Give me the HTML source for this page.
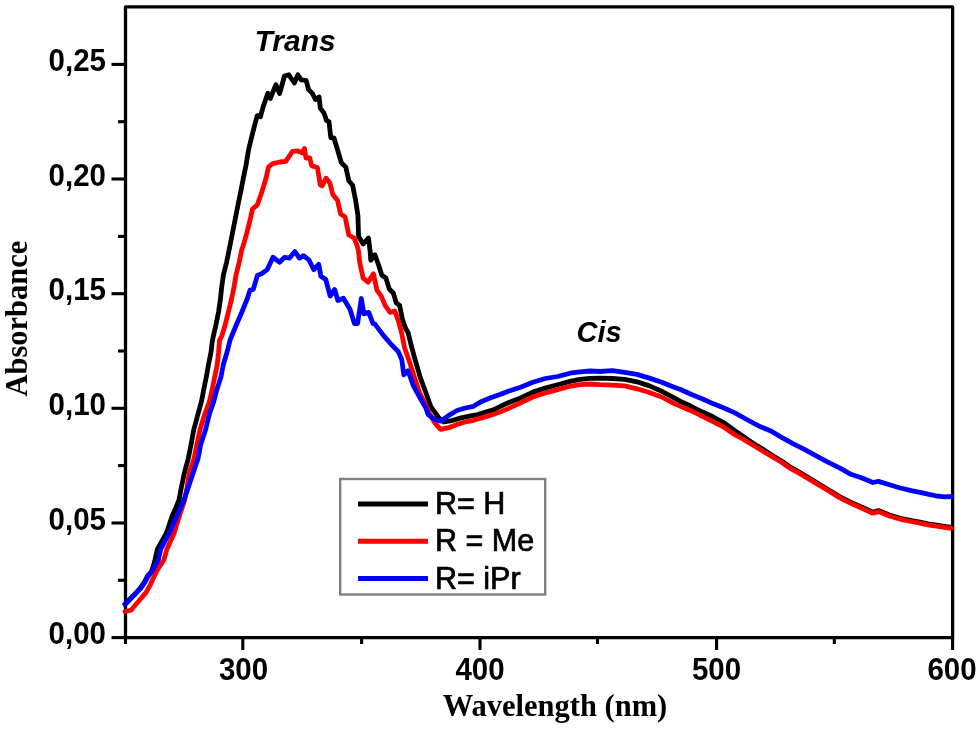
<!DOCTYPE html>
<html><head><meta charset="utf-8"><style>
html,body{margin:0;padding:0;background:#fff;}
svg{display:block;filter:blur(0.6px);}
</style></head><body>
<svg width="980" height="729" viewBox="0 0 980 729">
<rect x="0" y="0" width="980" height="729" fill="#fff"/>
<g stroke="#000" stroke-width="3.1" stroke-linecap="butt"><line x1="125.5" y1="637.6" x2="125.5" y2="644.0"/><line x1="242.8" y1="637.6" x2="242.8" y2="650.0"/><line x1="361.6" y1="637.6" x2="361.6" y2="644.0"/><line x1="480.0" y1="637.6" x2="480.0" y2="650.0"/><line x1="597.5" y1="637.6" x2="597.5" y2="644.0"/><line x1="716.6" y1="637.6" x2="716.6" y2="650.0"/><line x1="834.3" y1="637.6" x2="834.3" y2="644.0"/><line x1="952.6" y1="637.6" x2="952.6" y2="650.0"/><line x1="125.5" y1="637.6" x2="111.5" y2="637.6"/><line x1="125.5" y1="580.3" x2="118.0" y2="580.3"/><line x1="125.5" y1="523.0" x2="111.5" y2="523.0"/><line x1="125.5" y1="465.6" x2="118.0" y2="465.6"/><line x1="125.5" y1="408.3" x2="111.5" y2="408.3"/><line x1="125.5" y1="351.0" x2="118.0" y2="351.0"/><line x1="125.5" y1="293.7" x2="111.5" y2="293.7"/><line x1="125.5" y1="236.4" x2="118.0" y2="236.4"/><line x1="125.5" y1="179.0" x2="111.5" y2="179.0"/><line x1="125.5" y1="121.7" x2="118.0" y2="121.7"/><line x1="125.5" y1="64.4" x2="111.5" y2="64.4"/></g>
<rect x="125.5" y="6.8" width="827.1" height="630.8" fill="none" stroke="#000" stroke-width="3.3" stroke-linejoin="round"/>
<g fill="none" stroke-width="4.8" stroke-linejoin="round" stroke-linecap="round">
<polyline stroke="#000" points="125.0,604.5 130.2,599.0 135.2,594.0 140.1,588.3 144.2,582.5 147.5,576.0 151.6,571.5 154.5,562.0 157.3,549.4 162.0,541.0 166.5,532.9 172.0,516.5 175.8,508.0 179.0,500.0 181.3,487.6 184.3,473.2 188.2,458.8 191.1,444.4 193.7,430.0 198.0,414.0 201.4,401.7 203.8,389.4 206.3,377.0 208.5,364.7 211.0,352.3 212.5,340.0 216.1,324.0 218.6,311.7 220.4,299.4 221.7,287.0 223.5,274.7 226.6,262.3 229.1,250.0 232.6,232.4 235.3,218.7 238.0,204.9 240.8,191.2 243.5,177.5 246.3,163.7 248.5,150.0 251.8,136.5 254.9,124.2 257.3,115.6 260.4,116.8 263.5,105.7 267.8,93.3 270.3,98.5 275.9,84.7 279.6,93.5 284.5,76.0 288.8,74.8 294.4,83.0 297.8,74.8 301.2,79.8 306.1,80.4 308.6,89.6 312.3,93.3 315.4,99.5 319.1,97.0 320.3,108.1 324.0,113.1 326.5,120.5 329.0,121.7 330.8,137.8 333.9,137.8 337.6,150.0 341.3,162.6 345.8,167.1 348.8,180.7 352.6,185.2 355.6,200.3 357.9,215.4 358.6,236.5 363.2,244.0 368.4,238.0 370.0,250.0 370.8,260.2 374.9,254.7 378.3,264.3 381.8,275.3 385.9,278.1 389.3,289.0 393.4,293.2 396.2,302.8 399.6,305.5 402.4,319.2 405.8,328.9 408.0,332.4 411.4,346.1 415.5,361.2 420.3,377.7 425.8,392.5 431.0,407.0 438.9,417.9 443.9,422.0 452.9,420.3 461.2,417.9 469.4,416.2 477.6,414.6 485.8,412.1 494.1,409.6 500.0,406.5 508.2,402.8 520.6,397.9 532.9,392.1 545.3,388.0 557.6,384.7 570.0,381.4 580.0,379.3 590.0,378.3 600.0,378.1 612.3,378.5 624.7,379.3 637.0,381.8 649.4,385.9 661.7,391.3 674.1,397.9 680.0,401.2 691.0,406.3 702.0,411.8 712.9,416.8 723.9,422.8 734.9,430.8 740.0,434.1 748.2,439.9 756.5,445.4 764.7,450.4 772.9,455.8 781.2,460.7 789.4,466.5 800.0,472.6 814.9,481.6 825.9,488.2 840.0,496.9 851.0,502.4 862.0,507.3 872.9,512.2 878.4,510.6 889.4,515.0 900.4,518.3 911.3,520.5 920.0,522.1 927.8,523.9 936.7,525.2 945.7,526.6 951.5,527.4"/>
<polyline stroke="#f00" points="125.0,611.5 131.0,610.2 135.2,605.2 140.1,599.5 145.8,592.9 150.0,585.5 153.3,578.1 157.4,569.9 163.9,560.0 166.8,549.4 174.2,532.9 179.2,516.5 184.7,500.0 187.0,487.6 189.2,473.2 194.0,458.8 196.9,444.4 199.9,430.0 204.8,414.0 209.4,401.7 212.2,389.4 214.7,377.0 217.2,364.7 218.6,352.3 219.6,340.0 221.7,336.4 225.4,324.0 228.5,311.7 231.5,299.4 234.0,287.0 236.1,274.7 239.2,262.3 241.7,250.0 243.1,246.1 247.0,232.4 250.4,218.7 252.5,209.0 257.3,204.9 262.1,191.2 266.2,177.5 268.5,167.0 272.7,163.6 280.0,162.0 285.8,161.4 292.5,151.3 297.3,150.8 302.1,152.8 304.5,148.5 305.9,158.0 309.8,158.0 311.7,165.7 317.4,167.6 320.3,184.9 322.2,185.9 326.1,178.2 329.9,183.0 332.8,194.5 337.5,200.3 340.6,213.9 345.1,216.9 348.8,235.0 354.1,238.0 357.1,245.5 358.4,250.6 359.8,263.0 363.2,278.1 368.0,282.2 373.5,273.9 377.0,290.4 381.1,295.9 385.2,305.5 390.0,312.4 394.8,311.0 398.3,320.6 401.8,333.7 404.5,347.5 409.3,361.2 414.1,376.3 419.6,392.8 425.0,403.5 429.9,414.6 434.8,422.8 440.6,429.4 448.8,427.7 457.0,424.4 465.3,422.0 473.5,420.3 481.7,417.9 490.0,415.4 500.0,412.0 508.2,408.6 520.6,402.8 532.9,397.0 545.3,392.9 557.6,389.6 570.0,386.3 580.0,384.7 590.0,384.0 600.0,384.7 612.3,385.1 624.7,385.9 637.0,388.8 649.4,392.5 661.7,397.0 674.1,403.6 680.0,406.1 691.0,410.7 702.0,416.2 712.9,421.7 723.9,427.2 734.9,434.9 740.0,437.3 748.2,442.3 756.5,447.2 764.7,452.2 772.9,457.1 781.2,462.0 789.4,467.8 800.0,473.6 814.9,482.6 825.9,489.2 840.0,497.9 851.0,503.4 862.0,508.3 872.9,513.2 878.4,511.6 889.4,516.0 900.4,519.3 911.3,521.5 920.0,523.1 927.8,524.9 936.7,526.2 945.7,527.6 951.5,528.4"/>
<polyline stroke="#00f" points="125.0,604.3 130.2,598.7 135.2,593.7 141.0,588.0 145.0,582.2 148.5,575.6 152.3,571.0 155.5,564.9 158.3,560.0 160.6,549.4 169.3,532.9 176.7,516.5 183.9,500.0 188.2,487.6 193.0,473.2 198.0,458.8 200.7,444.4 205.5,430.0 209.4,414.0 213.7,401.7 216.9,389.4 220.9,377.0 223.3,364.7 227.0,352.3 230.1,340.0 236.7,324.0 242.0,311.7 247.0,299.4 250.0,290.2 253.3,289.4 257.4,275.4 261.5,273.7 267.3,269.6 273.0,257.3 279.6,262.2 284.6,257.3 289.5,258.1 294.9,251.5 299.4,258.1 303.5,255.6 309.0,260.0 313.8,269.7 318.7,264.3 320.9,276.3 325.8,279.6 330.2,296.1 334.6,289.5 337.9,300.5 343.4,298.3 350.0,309.2 354.4,323.5 357.6,323.5 361.3,298.5 363.9,313.8 368.7,312.4 372.9,323.4 375.0,324.1 383.2,335.1 391.5,344.7 398.3,351.6 401.8,359.8 403.8,374.9 408.0,370.8 413.4,385.9 420.3,398.3 425.8,407.9 428.2,414.6 434.8,419.5 440.6,421.2 448.8,415.4 457.0,410.5 465.3,408.0 473.5,406.3 481.7,401.4 490.0,398.1 500.0,394.6 508.2,391.3 520.6,387.2 532.9,382.2 545.3,378.5 557.6,376.5 570.0,373.2 580.0,371.9 590.0,371.0 600.0,371.5 612.3,370.7 624.7,372.3 637.0,374.4 649.4,378.1 661.7,382.2 674.1,387.2 680.0,389.3 691.0,394.3 702.0,398.7 712.9,403.6 723.9,408.0 734.9,412.9 745.9,419.0 760.0,426.6 771.0,431.0 782.0,437.6 792.9,443.6 803.9,449.1 814.9,455.1 825.9,461.2 840.0,468.2 851.0,474.3 862.0,478.1 872.9,482.5 878.4,481.4 889.4,484.7 900.4,488.0 911.3,490.7 920.0,492.4 927.8,494.2 936.7,496.0 945.0,496.8 951.5,496.5"/>
</g>
<g font-family="'Liberation Sans', sans-serif" font-weight="bold" font-size="29.5" fill="#000"><text transform="translate(106,644.1) scale(1,1.06)" text-anchor="end">0,00</text><text transform="translate(106,529.5) scale(1,1.06)" text-anchor="end">0,05</text><text transform="translate(106,414.8) scale(1,1.06)" text-anchor="end">0,10</text><text transform="translate(106,300.2) scale(1,1.06)" text-anchor="end">0,15</text><text transform="translate(106,185.5) scale(1,1.06)" text-anchor="end">0,20</text><text transform="translate(106,70.9) scale(1,1.06)" text-anchor="end">0,25</text><text transform="translate(243.5,679.5) scale(1,1.06)" text-anchor="middle">300</text><text transform="translate(480.0,679.5) scale(1,1.06)" text-anchor="middle">400</text><text transform="translate(716.5,679.5) scale(1,1.06)" text-anchor="middle">500</text><text transform="translate(952.0,679.5) scale(1,1.06)" text-anchor="middle">600</text></g>
<g font-family="'Liberation Sans', sans-serif" font-weight="bold" font-style="italic" font-size="29" fill="#000">
<text x="254.5" y="51" font-size="30">Trans</text>
<text x="576.5" y="342.3">Cis</text>
</g>
<rect x="340.2" y="479" width="205" height="115.5" fill="#fff" stroke="#808080" stroke-width="2.4"/>
<g stroke-width="5">
<line x1="358" y1="504" x2="428" y2="504" stroke="#000"/>
<line x1="358" y1="541.3" x2="428" y2="541.3" stroke="#f00"/>
<line x1="358" y1="578.5" x2="428" y2="578.5" stroke="#00f"/>
</g>
<g font-family="'Liberation Sans', sans-serif" font-size="30.5" fill="#000" stroke="#000" stroke-width="0.7">
<text x="435" y="514">R= H</text>
<text x="435" y="551">R = Me</text>
<text x="435" y="589">R= iPr</text>
</g>
<g font-family="'Liberation Serif', serif" font-weight="bold" font-size="30.5" fill="#000">
<text x="555" y="716" text-anchor="middle">Wavelength (nm)</text>
<text transform="translate(27,318.6) rotate(-90)" text-anchor="middle">Absorbance</text>
</g>
</svg>
</body></html>
